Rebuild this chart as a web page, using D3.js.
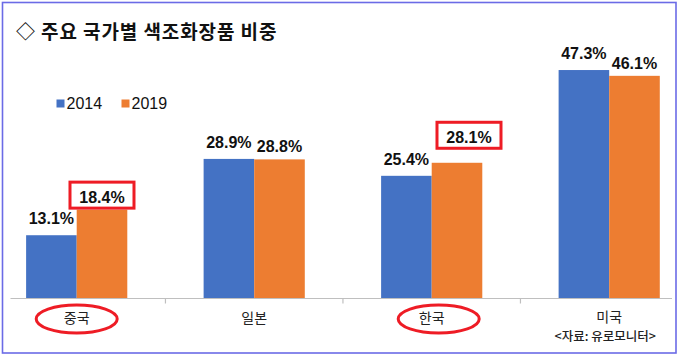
<!DOCTYPE html>
<html><head><meta charset="utf-8">
<script src="https://cdn.jsdelivr.net/npm/d3@7"></script>
<style>
html,body{margin:0;padding:0;background:#fff;}
svg{display:block;}
</style></head>
<body><svg id="c" width="680" height="358"></svg>
<script>
const categories = ["중국", "일본", "한국", "미국"];
const seriesNames = ["2014", "2019"];
const values2014 = [13.1, 28.9, 25.4, 47.3];
const values2019 = [18.4, 28.8, 28.1, 46.1];
const highlightCats = ["중국", "한국"];
const title = "◇ 주요 국가별 색조화장품 비중";
const source = "<자료: 유로모니터>";

const colors = ["#4472c4", "#ed7d31"];
const svg = d3.select("#c");
const W = 680, H = 358;
const krFont = "'Noto Sans CJK KR', sans-serif";
const numFont = "'Liberation Sans', Arial, sans-serif";

svg.append("rect").attr("x",0).attr("y",0).attr("width",W).attr("height",H).attr("fill","#fff");
// frame
svg.append("rect").attr("x",2.5).attr("y",2.5).attr("width",673.5).attr("height",350.5)
  .attr("fill","none").attr("stroke","#6b6be6").attr("stroke-width",1.6);

// title
svg.append("text").attr("x",16).attr("y",39).text(title)
  .attr("font-family",krFont).attr("font-weight",700).attr("font-size",19)
  .attr("letter-spacing",0.9).attr("fill","#111");

const baseY = 298.5;
const x0 = d3.scaleBand().domain(categories).range([-12.05, 697.95]).paddingInner(0.43).paddingOuter(0.215);
const x1 = d3.scaleBand().domain(seriesNames).range([0, x0.bandwidth()]);
const y = d3.scaleLinear().domain([0, 50]).range([baseY, baseY - 50*4.83]);

const data = categories.map((c,i)=>({cat:c, vals:[values2014[i], values2019[i]]}));

const g = svg.append("g");
const groups = g.selectAll("g.grp").data(data).join("g").attr("class","grp")
  .attr("transform", d=>`translate(${x0(d.cat)},0)`);
groups.selectAll("rect").data(d=>d.vals.map((v,j)=>({v, s:seriesNames[j], j})))
  .join("rect")
  .attr("x", d=>x1(d.s)).attr("width", x1.bandwidth())
  .attr("y", d=>y(d.v)).attr("height", d=>baseY - y(d.v))
  .attr("fill", d=>colors[d.j]);

// axis
svg.append("line").attr("x1",10.5).attr("x2",672).attr("y1",baseY).attr("y2",baseY)
  .attr("stroke","#bfbfbf").attr("stroke-width",1.2);
const boundaries = categories.slice(1).map(c => x0(c) - x0.step()*x0.paddingInner()/2);
svg.selectAll("line.tk").data(boundaries).join("line").attr("class","tk")
  .attr("x1",d=>d).attr("x2",d=>d).attr("y1",baseY).attr("y2",baseY+5)
  .attr("stroke","#bfbfbf").attr("stroke-width",1.2);

const xAxis = d3.axisBottom(x0).tickSize(0).tickPadding(0);
const ax = svg.append("g").attr("transform",`translate(0,${baseY})`).call(xAxis);
ax.select(".domain").remove();
ax.selectAll("text").attr("y", d => d === "미국" ? 23 : 24.5).attr("dy", 0)
  .attr("font-family",krFont).attr("font-size",14).attr("fill","#222");
// source under last category
svg.append("text").attr("x", x0("미국")+x0.bandwidth()/2 - 4).attr("y", 340.5)
  .attr("text-anchor","middle").text(source)
  .attr("font-family",krFont).attr("font-size",12.5).attr("font-weight",500).attr("fill","#222");

// value labels
data.forEach(d=>{
  d.vals.forEach((v,j)=>{
    const hl = j===1 && highlightCats.includes(d.cat);
    let cx = x0(d.cat) + x1(seriesNames[j]) + x1.bandwidth()/2;
    let by = y(v) - (j===0 ? 11 : 7);
    if (hl && d.cat === "한국") { cx += 12; by -= 13; }
    svg.append("text").attr("x",cx).attr("y",by).attr("text-anchor","middle")
      .text(v.toFixed(1)+"%")
      .attr("font-family",numFont).attr("font-weight",700).attr("font-size",16).attr("fill","#111");
    if (hl) {
      const bw = 64, bh = 26;
      svg.append("rect").attr("x",cx-bw/2).attr("y",by-20.5).attr("width",bw).attr("height",bh)
        .attr("fill","none").attr("stroke","#ee1c25").attr("stroke-width",3);
    }
  });
});

// ellipses around highlighted categories
svg.selectAll("ellipse.hl").data(highlightCats).join("ellipse").attr("class","hl")
  .attr("cx", c=>x0(c)+x0.bandwidth()/2 + (c==="한국"?7:0))
  .attr("cy", 319).attr("rx", 40.5).attr("ry", 14)
  .attr("fill","none").attr("stroke","#ee1c25").attr("stroke-width",3);

// legend
const leg = svg.append("g");
const legX = [56.5, 121.5];
seriesNames.forEach((s,j)=>{
  leg.append("rect").attr("x",legX[j]).attr("y",99.5).attr("width",8).attr("height",8).attr("fill",colors[j]);
  leg.append("text").attr("x",legX[j]+10).attr("y",109).text(s)
    .attr("font-family",numFont).attr("font-size",16).attr("fill","#111");
});
</script></body></html>
